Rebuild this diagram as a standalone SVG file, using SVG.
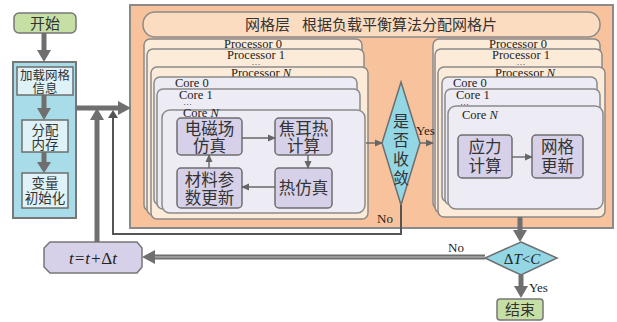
<svg xmlns="http://www.w3.org/2000/svg" width="617" height="322" viewBox="0 0 617 322">
<defs>
<style>
.cjk{font-family:"Noto Sans CJK SC","Noto Sans CJK JP",sans-serif;fill:#333}
.lat{font-family:"Liberation Serif",serif;fill:#222}
.dots{font-family:"Liberation Serif",serif;fill:#222;font-size:9px}
.proc{fill:#FCEBD9;stroke:#8a8a8a;stroke-width:1.5}
.core{fill:#EDEBF4;stroke:#8a8a8a;stroke-width:1.5}
.ibox{fill:#D6D1E8;stroke:#6e6e6e;stroke-width:1.5}
.bbox{fill:#DFF2F7;stroke:#6e6e6e;stroke-width:1.5}
.gbox{fill:#C6DFA4;stroke:#777;stroke-width:1.5}
.thick{stroke:#6f6f6f;stroke-width:5;fill:none}
.thin{stroke:#666;stroke-width:1.4;fill:none}
.wire{stroke:#555;stroke-width:2;fill:none}
</style>
<marker id="sm" markerWidth="8" markerHeight="8" refX="7" refY="4" orient="auto" markerUnits="userSpaceOnUse">
<path d="M0,0.5 L8,4 L0,7.5 Z" fill="#666"/>
</marker>
</defs>

<!-- Orange layer panel -->
<g id="layer">
<rect x="130" y="5" width="483" height="223" fill="#F8C39C" stroke="#8a8a8a" stroke-width="2"/>
<rect x="143" y="12" width="457" height="25" rx="12" fill="#FBDCC0" stroke="#8a8a8a" stroke-width="1.5"/>
<text class="cjk" x="245" y="30" font-size="15">网格层</text>
<text class="cjk" x="302" y="30" font-size="15">根据负载平衡算法分配网格片</text>
</g>

<!-- Start -->
<g id="start">
<rect x="14" y="13" width="62" height="20" rx="5" class="gbox"/>
<text class="cjk" x="45" y="28.5" font-size="15" text-anchor="middle">开始</text>
</g>

<!-- Left init panel -->
<g id="init">
<rect x="13" y="62" width="63" height="156" fill="#A8DCE8" stroke="#777" stroke-width="2"/>
<rect x="17" y="67" width="56" height="28" class="bbox"/>
<text class="cjk" x="45" y="80" font-size="12.5" text-anchor="middle">加载网格</text>
<text class="cjk" x="45" y="93" font-size="12.5" text-anchor="middle">信息</text>
<rect x="22" y="120" width="46" height="32" class="bbox"/>
<text class="cjk" x="45" y="135" font-size="13.5" text-anchor="middle">分配</text>
<text class="cjk" x="45" y="149" font-size="13.5" text-anchor="middle">内存</text>
<rect x="22" y="173" width="46" height="35" class="bbox"/>
<text class="cjk" x="45" y="188" font-size="13.5" text-anchor="middle">变量</text>
<text class="cjk" x="45" y="203" font-size="13.5" text-anchor="middle">初始化</text>
</g>

<!-- Left processor stack -->
<g id="proc-left">
<rect x="144" y="39" width="218" height="172" rx="6" class="proc"/>
<rect x="147" y="49" width="217" height="166" rx="6" class="proc"/>
<rect x="151" y="67" width="217" height="152" rx="6" class="proc"/>
<text class="lat" x="253" y="48" font-size="12.5" text-anchor="middle">Processor 0</text>
<text class="lat" x="256" y="59" font-size="12.5" text-anchor="middle">Processor 1</text>
<text class="dots" x="256" y="65" text-anchor="middle">…</text>
<text class="lat" x="261" y="77" font-size="12.5" text-anchor="middle">Processor <tspan font-style="italic">N</tspan></text>
<rect x="154" y="77" width="203" height="128" rx="6" class="core"/>
<rect x="157" y="89" width="203" height="120" rx="6" class="core"/>
<text class="lat" x="175" y="87" font-size="12.5">Core 0</text>
<text class="lat" x="179" y="99" font-size="12.5">Core 1</text>
<text class="dots" x="183" y="105">…</text>
<rect x="162" y="110" width="203" height="103" rx="8" class="core"/>
<text class="lat" x="183" y="117" font-size="12.5">Core <tspan font-style="italic">N</tspan></text>
</g>

<g id="em">
<rect x="177" y="118" width="65" height="37" rx="4" class="ibox"/>
<text class="cjk" x="209.5" y="135" font-size="16.5" text-anchor="middle">电磁场</text>
<text class="cjk" x="209.5" y="152" font-size="16.5" text-anchor="middle">仿真</text>
</g>
<g id="joule">
<rect x="275" y="118" width="57" height="37" rx="4" class="ibox"/>
<text class="cjk" x="303.5" y="135" font-size="16.5" text-anchor="middle">焦耳热</text>
<text class="cjk" x="303.5" y="152" font-size="16.5" text-anchor="middle">计算</text>
</g>
<g id="material">
<rect x="177" y="168" width="65" height="40" rx="4" class="ibox"/>
<text class="cjk" x="209.5" y="186" font-size="16.5" text-anchor="middle">材料参</text>
<text class="cjk" x="209.5" y="204" font-size="16.5" text-anchor="middle">数更新</text>
</g>
<g id="thermal">
<rect x="275" y="168" width="57" height="40" rx="4" class="ibox"/>
<text class="cjk" x="303.5" y="194" font-size="16.5" text-anchor="middle">热仿真</text>
</g>

<!-- Convergence diamond -->
<g id="converge">
<path d="M401,82 L420,143 L401,205 L382,143 Z" fill="#93D6E4" stroke="#6e6e6e" stroke-width="1.5"/>
<text class="cjk" x="401" y="127" font-size="16" text-anchor="middle">是</text>
<text class="cjk" x="401" y="146" font-size="16" text-anchor="middle">否</text>
<text class="cjk" x="401" y="165" font-size="16" text-anchor="middle">收</text>
<text class="cjk" x="401" y="184" font-size="16" text-anchor="middle">敛</text>
</g>

<!-- Right processor stack -->
<g id="proc-right">
<rect x="433" y="39" width="167" height="170" rx="6" class="proc"/>
<rect x="435" y="49" width="167" height="164" rx="6" class="proc"/>
<rect x="438" y="67" width="167" height="150" rx="6" class="proc"/>
<text class="lat" x="518" y="48" font-size="12.5" text-anchor="middle">Processor 0</text>
<text class="lat" x="521" y="59" font-size="12.5" text-anchor="middle">Processor 1</text>
<text class="dots" x="521" y="65" text-anchor="middle">…</text>
<text class="lat" x="525" y="77" font-size="12.5" text-anchor="middle">Processor <tspan font-style="italic">N</tspan></text>
<rect x="442" y="77" width="155" height="125" rx="6" class="core"/>
<rect x="445" y="89" width="155" height="116" rx="6" class="core"/>
<text class="lat" x="453" y="87" font-size="12.5">Core 0</text>
<text class="lat" x="456" y="99" font-size="12.5">Core 1</text>
<text class="dots" x="460" y="105">…</text>
<rect x="448" y="106" width="155" height="103" rx="8" class="core"/>
<text class="lat" x="462" y="119" font-size="12.5">Core <tspan font-style="italic">N</tspan></text>
</g>
<g id="stress">
<rect x="458" y="135" width="54" height="43" rx="4" class="ibox"/>
<text class="cjk" x="485" y="153" font-size="16.5" text-anchor="middle">应力</text>
<text class="cjk" x="485" y="172" font-size="16.5" text-anchor="middle">计算</text>
</g>
<g id="mesh">
<rect x="532" y="135" width="51" height="43" rx="4" class="ibox"/>
<text class="cjk" x="557.5" y="153" font-size="16.5" text-anchor="middle">网格</text>
<text class="cjk" x="557.5" y="172" font-size="16.5" text-anchor="middle">更新</text>
</g>

<!-- dT<C diamond -->
<g id="check">
<path d="M521,242 L557,258 L521,275 L485,258 Z" fill="#93D6E4" stroke="#6e6e6e" stroke-width="1.5"/>
<text class="lat" x="522" y="264" font-size="15" text-anchor="middle">Δ<tspan font-style="italic">T</tspan>&lt;<tspan font-style="italic">C</tspan></text>
</g>

<!-- t=t+dt -->
<g id="tstep">
<path d="M50,242 L137,242 L142,248 L142,267 L137,273 L50,273 L44,267 L44,248 Z" fill="#D6D1E8" stroke="#777" stroke-width="1.5"/>
<text class="lat" x="93" y="264" font-size="17" font-style="italic" text-anchor="middle">t=t+<tspan font-style="normal">Δ</tspan>t</text>
</g>

<!-- End -->
<g id="end">
<rect x="497" y="299" width="46" height="21" rx="3" class="gbox"/>
<text class="cjk" x="520" y="315" font-size="15" text-anchor="middle">结束</text>
</g>

<!-- Connectors -->
<g id="connectors">
<line x1="44" y1="33" x2="44" y2="52" class="thick"/>
<path d="M37,50 L51,50 L44,62 Z" fill="#6f6f6f"/>
<line x1="44" y1="95" x2="44" y2="110" class="thick"/>
<path d="M37,108 L51,108 L44,120 Z" fill="#6f6f6f"/>
<line x1="44" y1="152" x2="44" y2="164" class="thick"/>
<path d="M37,162 L51,162 L44,173 Z" fill="#6f6f6f"/>

<line x1="76" y1="108" x2="120" y2="108" class="thick"/>
<path d="M118,101 L131,108 L118,115 Z" fill="#6f6f6f"/>

<line x1="97" y1="242" x2="97" y2="117" class="thick"/>
<path d="M90,120 L104,120 L97,108 Z" fill="#6f6f6f"/>

<path d="M401,205 L401,234 L113,234 L113,114" class="wire"/>
<path d="M108,118 L118,118 L113,110 Z" fill="#555"/>

<line x1="242" y1="138" x2="275" y2="138" class="thin" marker-end="url(#sm)"/>
<line x1="308" y1="155" x2="308" y2="168" class="thin" marker-end="url(#sm)"/>
<line x1="275" y1="187" x2="242" y2="187" class="thin" marker-end="url(#sm)"/>
<line x1="209" y1="168" x2="209" y2="155" class="thin" marker-end="url(#sm)"/>
<line x1="512" y1="157" x2="532" y2="157" class="thin" marker-end="url(#sm)"/>
<line x1="366" y1="143" x2="382" y2="143" class="thin" marker-end="url(#sm)"/>
<line x1="420" y1="143" x2="433" y2="143" class="thin" marker-end="url(#sm)"/>

<line x1="520" y1="217" x2="520" y2="232" class="thick"/>
<path d="M513,230 L527,230 L520,242 Z" fill="#6f6f6f"/>

<line x1="485" y1="257" x2="152" y2="257" class="thick"/>
<line x1="485" y1="257" x2="152" y2="257" stroke="#a8a8a8" stroke-width="1.5"/>
<path d="M155,250 L142,257 L155,264 Z" fill="#6f6f6f"/>

<line x1="521" y1="275" x2="521" y2="288" class="thick"/>
<path d="M514,286 L528,286 L521,298 Z" fill="#6f6f6f"/>

<text class="lat" x="416" y="135" font-size="13">Yes</text>
<text class="lat" x="377" y="223" font-size="13">No</text>
<text class="lat" x="448" y="252" font-size="13">No</text>
<text class="lat" x="529" y="292" font-size="13">Yes</text>
</g>
</svg>
